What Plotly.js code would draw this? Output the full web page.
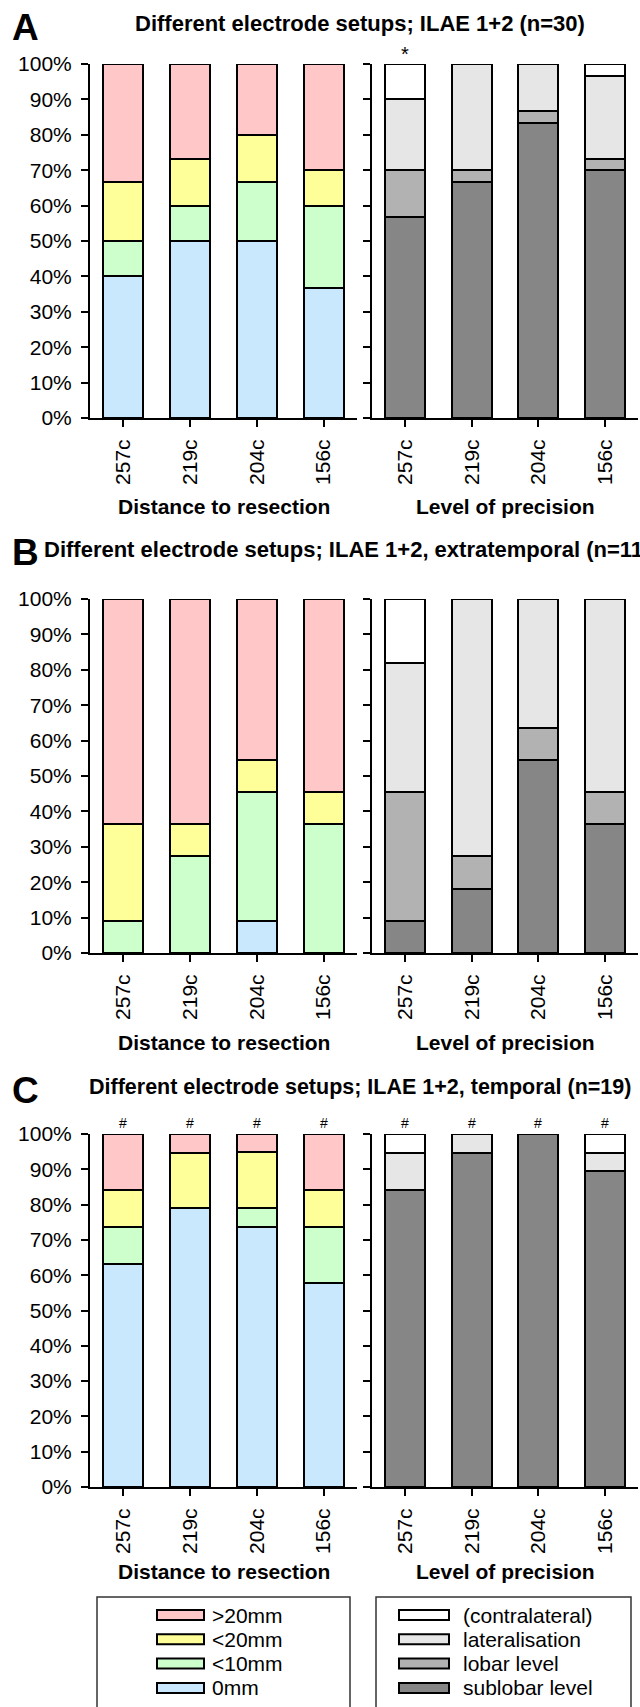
<!DOCTYPE html>
<html><head><meta charset="utf-8">
<script src="https://cdn.plot.ly/plotly-3.0.1.min.js"></script>
<style>html,body{margin:0;padding:0;background:#fff;} #chart{width:640px;height:1707px;}</style>
</head><body><div id="chart"></div>
<script>
// ---------- DATA ----------
const categories = ['257c', '219c', '204c', '156c'];
const yTickVals = [0, 10, 20, 30, 40, 50, 60, 70, 80, 90, 100];
const yTickText = ['0%', '10%', '20%', '30%', '40%', '50%', '60%', '70%', '80%', '90%', '100%'];

const distNames = ['0mm', '<10mm', '<20mm', '>20mm'];
const levelNames = ['sublobar level', 'lobar level', 'lateralisation', '(contralateral)'];

// Panel A: ILAE 1+2 (n=30)
const A_0mm  = [40.0, 50.0, 50.0, 36.7];
const A_lt10 = [10.0, 10.0, 16.7, 23.3];
const A_lt20 = [16.7, 13.3, 13.3, 10.0];
const A_gt20 = [33.3, 26.7, 20.0, 30.0];
const A_sublobar = [56.7, 66.7, 83.3, 70.0];
const A_lobar    = [13.3, 3.3, 3.3, 3.3];
const A_lateral  = [20.0, 30.0, 13.4, 23.4];
const A_contra   = [10.0, 0, 0, 3.3];
const A_markDist  = ['', '', '', ''];
const A_markLevel = ['*', '', '', ''];

// Panel B: ILAE 1+2, extratemporal (n=11)
const B_0mm  = [0, 0, 9.1, 0];
const B_lt10 = [9.1, 27.3, 36.4, 36.4];
const B_lt20 = [27.3, 9.1, 9.1, 9.1];
const B_gt20 = [63.6, 63.6, 45.4, 54.5];
const B_sublobar = [9.1, 18.2, 54.5, 36.4];
const B_lobar    = [36.4, 9.1, 9.1, 9.1];
const B_lateral  = [36.3, 72.7, 36.4, 54.5];
const B_contra   = [18.2, 0, 0, 0];
const B_markDist  = ['', '', '', ''];
const B_markLevel = ['', '', '', ''];

// Panel C: ILAE 1+2, temporal (n=19)
const C_0mm  = [63.2, 78.9, 73.7, 57.9];
const C_lt10 = [10.5, 0, 5.3, 15.8];
const C_lt20 = [10.5, 15.8, 15.8, 10.5];
const C_gt20 = [15.8, 5.3, 5.2, 15.8];
const C_sublobar = [84.2, 94.7, 100, 89.5];
const C_lobar    = [0, 0, 0, 0];
const C_lateral  = [10.5, 5.3, 0, 5.2];
const C_contra   = [5.3, 0, 0, 5.3];
const C_markDist  = ['#', '#', '#', '#'];
const C_markLevel = ['#', '#', '#', '#'];

const panelLetters = ['A', 'B', 'C'];
const panelTitles = [
  'Different electrode setups; ILAE 1+2 (n=30)',
  'Different electrode setups; ILAE 1+2, extratemporal (n=11)',
  'Different electrode setups; ILAE 1+2, temporal (n=19)'
];
const xTitles = ['Distance to resection', 'Level of precision'];

// ---------- STYLE ----------
const distColors = ['#C9E7FD', '#CCFFCC', '#FFFF99', '#FFC7C7'];
const levelColors = ['#868686', '#B2B2B2', '#E6E6E6', '#FFFFFF'];
const FONT = 'Liberation Sans, Arial, Helvetica, sans-serif';

const W = 640, H = 1707;
const px = x => x / W;
const py = y => 1 - y / H;

const panels = [
  {dist: [A_0mm, A_lt10, A_lt20, A_gt20], level: [A_sublobar, A_lobar, A_lateral, A_contra],
   marks: [A_markDist, A_markLevel], top: 64, bottom: 418, titleY: 23, titleX: 360, titleAnchor: 'center', titleSize: 22, letterY: 28, xtitleY: 507},
  {dist: [B_0mm, B_lt10, B_lt20, B_gt20], level: [B_sublobar, B_lobar, B_lateral, B_contra],
   marks: [B_markDist, B_markLevel], top: 599, bottom: 953, titleY: 549, titleX: 42, titleAnchor: 'left', titleSize: 22, letterY: 552, xtitleY: 1042},
  {dist: [C_0mm, C_lt10, C_lt20, C_gt20], level: [C_sublobar, C_lobar, C_lateral, C_contra],
   marks: [C_markDist, C_markLevel], top: 1134, bottom: 1487, titleY: 1087, titleX: 360, titleAnchor: 'center', titleSize: 21.5, letterY: 1090, xtitleY: 1571}
];
const sideX = [[90, 357], [372, 638]];

const traces = [];
const annotations = [];
const shapes = [];
const layout = {
  width: W, height: H,
  margin: {l: 0, r: 0, t: 0, b: 0},
  paper_bgcolor: '#fff', plot_bgcolor: 'rgba(0,0,0,0)',
  barmode: 'stack', showlegend: false,
  font: {family: FONT, color: '#000'},
  annotations: annotations, shapes: shapes
};

panels.forEach((p, i) => {
  [0, 1].forEach(s => {
    const k = i * 2 + s + 1;
    const xa = 'x' + k, ya = 'y' + k;
    const series = s === 0 ? p.dist : p.level;
    const names = s === 0 ? distNames : levelNames;
    const colors = s === 0 ? distColors : levelColors;
    series.forEach((vals, j) => {
      traces.push({
        type: 'bar', x: categories, y: vals, name: names[j],
        xaxis: xa, yaxis: ya, width: 0.6,
        marker: {color: colors[j], line: {color: '#000', width: 2}},
        hoverinfo: 'skip'
      });
    });
    layout['xaxis' + k] = {
      domain: [px(sideX[s][0]), px(sideX[s][1])], anchor: ya,
      type: 'category', categoryorder: 'array', categoryarray: categories,
      range: [-0.5, 3.5], ticks: 'outside', ticklen: 7, tickwidth: 2, tickcolor: '#000',
      showline: true, linewidth: 2, linecolor: '#000', tickangle: -90,
      tickfont: {size: 21, color: '#000', family: FONT}, ticklabelstandoff: 4,
      showgrid: false, zeroline: false, fixedrange: true
    };
    layout['yaxis' + k] = {
      domain: [py(p.bottom), py(p.top)], anchor: xa,
      range: [0, 100], tickvals: yTickVals, ticktext: yTickText,
      ticks: 'outside', ticklen: 7, tickwidth: 2, tickcolor: '#000',
      showline: true, linewidth: 2, linecolor: '#000',
      showticklabels: s === 0, tickfont: {size: 21, color: '#000', family: FONT},
      ticklabelstandoff: 5,
      showgrid: false, zeroline: false, fixedrange: true
    };
    // significance marks above bars
    p.marks[s].forEach((m, j) => {
      if (!m) return;
      annotations.push({
        xref: xa, yref: ya, x: categories[j], y: 100, text: m, showarrow: false,
        yanchor: 'middle', yshift: m === '*' ? 10 : 11, font: {size: m === '*' ? 20 : 14, color: '#000'}
      });
    });
    // axis title
    annotations.push({
      xref: 'paper', yref: 'paper', x: px((sideX[s][0] + sideX[s][1]) / 2), y: py(p.xtitleY),
      text: '<b>' + xTitles[s] + '</b>', showarrow: false, xanchor: 'center', yanchor: 'middle',
      font: {size: 21, color: '#000'}
    });
  });
  annotations.push({
    xref: 'paper', yref: 'paper', x: px(25), y: py(p.letterY), text: '<b>' + panelLetters[i] + '</b>',
    showarrow: false, xanchor: 'center', yanchor: 'middle', font: {size: 37, color: '#000'}
  });
  annotations.push({
    xref: 'paper', yref: 'paper', x: px(p.titleX), y: py(p.titleY), text: '<b>' + panelTitles[i] + '</b>',
    showarrow: false, xanchor: p.titleAnchor, yanchor: 'middle', font: {size: p.titleSize, color: '#000'}
  });
});

// ---------- LEGENDS (drawn as boxes + swatches + labels) ----------
const legendBoxes = [[97, 350], [376, 631]];
const legendSwatchX = [[157, 204], [399, 449]];
const legendTextX = [210, 461];
const legendTop = 1597, legendFirst = 1615, legendStep = 24.3;
const legendSets = [
  {names: distNames.slice().reverse(), colors: distColors.slice().reverse()},
  {names: levelNames.slice().reverse(), colors: levelColors.slice().reverse()}
];
legendSets.forEach((set, s) => {
  shapes.push({type: 'rect', xref: 'paper', yref: 'paper', x0: px(legendBoxes[s][0]), x1: px(legendBoxes[s][1]),
    y0: py(1730), y1: py(legendTop), line: {color: '#333', width: 1.5}, fillcolor: 'rgba(0,0,0,0)'});
  set.names.forEach((n, j) => {
    const yc = legendFirst + j * legendStep;
    shapes.push({type: 'rect', xref: 'paper', yref: 'paper', x0: px(legendSwatchX[s][0]), x1: px(legendSwatchX[s][1]),
      y0: py(yc + 5), y1: py(yc - 5), line: {color: '#000', width: 2}, fillcolor: set.colors[j]});
    annotations.push({xref: 'paper', yref: 'paper', x: px(legendTextX[s]), y: py(yc), text: n.replace('<', '&lt;').replace('>', '&gt;'),
      showarrow: false, xanchor: 'left', yanchor: 'middle', font: {size: 21, color: '#000'}});
  });
});

Plotly.newPlot('chart', traces, layout, {staticPlot: true, displayModeBar: false});
</script>
</body></html>
